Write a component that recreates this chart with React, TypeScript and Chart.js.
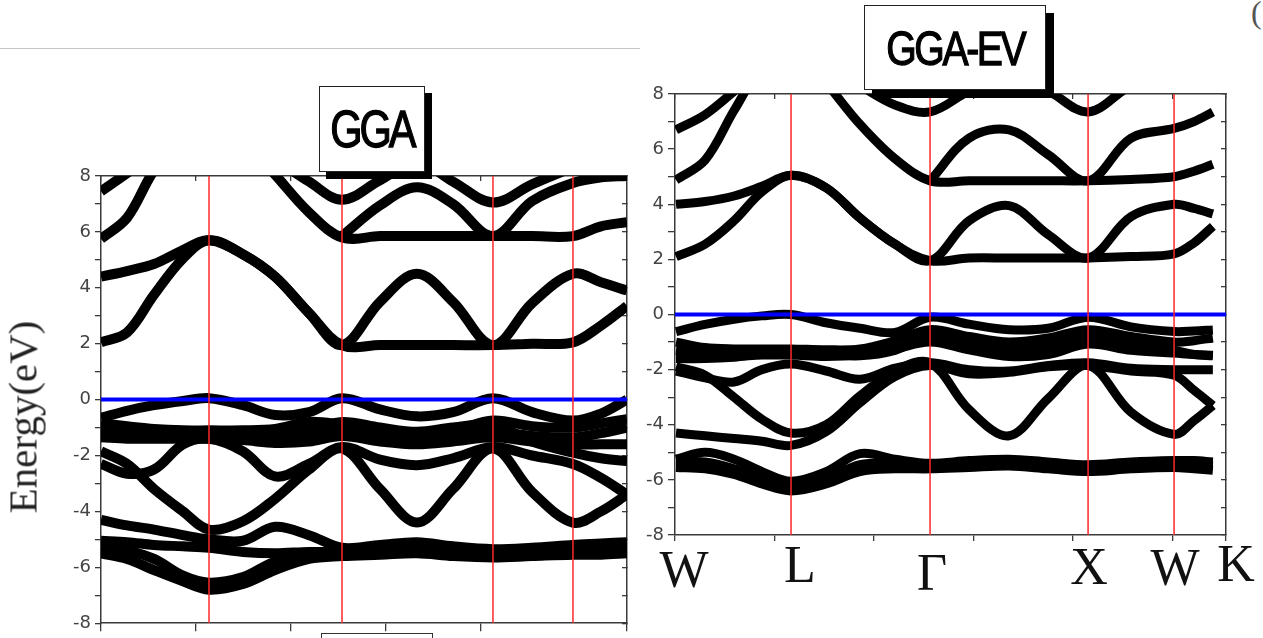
import React, { useEffect, useRef } from 'react';
import { Chart, registerables } from 'chart.js';

Chart.register(...registerables);

// ---------- shared ----------
const Y_MIN = -8;
const Y_MAX = 8;
const FERMI = 0;
const X_MAX = 5.537;
const KPATH_LABELS = ['W', 'L', 'Γ', 'X', 'W', 'K'];

// ---------- GGA panel ----------
const GGA_K = [0, 0.274, 0.558, 0.863, 1.137, 1.495, 1.832, 2.189, 2.537, 2.937, 3.326, 3.705, 4.126, 4.537, 4.968, 5.263, 5.537];
const GGA_SYM = [1.137, 2.537, 4.126, 4.968];

const GGA_C1 = [2.05, 2.4, 3.75, 5.05, 5.7, 5.2, 4.4, 3.1, 1.95, 1.95, 1.95, 1.95, 1.95, 2.0, 2.05, 2.65, 3.35];
const GGA_C2 = [4.4, 4.6, 4.85, 5.35, 5.7, 5.2, 4.4, 3.1, 1.95, 3.5, 4.5, 3.5, 1.95, 3.45, 4.5, 4.2, 3.9];
const GGA_C3 = [5.75, 6.5, 8.2, 9.4, 9.8, 9.3, 8.05, 6.7, 5.8, 5.85, 5.85, 5.85, 5.85, 5.85, 5.85, 6.2, 6.35];
const GGA_C4 = [7.45, 8.1, 8.8, 9.3, 9.5, 9.3, 8.6, 7.8, 7.15, 7.85, 8.5, 7.8, 7.05, 7.7, 8.3, 8.6, 8.8];
const GGA_C5 = [null, null, null, null, null, null, null, null, 5.85, 6.95, 7.6, 7.0, 5.85, 7.1, 7.75, 7.95, 8.0];

const GGA_V1 = [-0.65, -0.4, -0.2, -0.05, 0.05, -0.2, -0.55, -0.45, 0.05, -0.35, -0.6, -0.45, 0.05, -0.45, -0.75, -0.5, 0.0];
const GGA_V2 = [-0.85, -0.95, -1.05, -1.1, -1.1, -1.1, -1.05, -0.8, -0.9, -1.1, -1.2, -1.1, -0.75, -0.95, -1.0, -0.85, -0.7];
const GGA_V3 = [-1.1, -1.15, -1.2, -1.25, -1.25, -1.25, -1.3, -1.2, -1.1, -1.35, -1.5, -1.35, -1.15, -1.3, -1.35, -1.2, -1.0];
const GGA_V4 = [-1.35, -1.4, -1.4, -1.4, -1.4, -1.45, -1.55, -1.5, -1.3, -1.5, -1.6, -1.5, -1.35, -1.5, -1.6, -1.6, -1.6];
const GGA_V5 = [-0.95, -1.0, -1.1, -1.15, -1.15, -1.2, -1.25, -1.1, -0.8, -1.0, -1.15, -1.0, -0.9, -1.5, -1.9, -2.1, -2.2];
const GGA_VA = [-2.3, -2.65, -2.5, -1.6, -1.4, -1.85, -2.75, -2.3, -1.7, -2.15, -2.35, -2.1, -1.7, -2.0, -2.3, -2.8, -3.4];
const GGA_VB = [-1.85, -2.3, -3.2, -4.0, -4.65, -4.35, -3.55, -2.5, -1.75, -3.2, -4.4, -3.2, -1.75, -3.3, -4.4, -4.0, -3.4];
const GGA_VE = [-4.3, -4.5, -4.65, -4.85, -5.0, -5.05, -4.55, -4.85, -5.3, -5.2, -5.1, -5.25, -5.35, -5.3, -5.2, -5.15, -5.1];
const GGA_VF = [-5.05, -5.1, -5.2, -5.25, -5.3, -5.45, -5.5, -5.45, -5.45, -5.35, -5.3, -5.4, -5.55, -5.5, -5.45, -5.4, -5.35];
const GGA_VG = [-5.3, -5.4, -5.7, -6.3, -6.55, -6.35, -5.8, -5.6, -5.55, -5.45, -5.4, -5.5, -5.6, -5.55, -5.5, -5.5, -5.45];
const GGA_VH = [-5.5, -5.7, -6.1, -6.5, -6.8, -6.6, -6.1, -5.7, -5.6, -5.55, -5.5, -5.6, -5.65, -5.6, -5.55, -5.55, -5.5];

const GGA_BANDS = [GGA_C1, GGA_C2, GGA_C3, GGA_C4, GGA_C5, GGA_V1, GGA_V2, GGA_V3, GGA_V4, GGA_V5, GGA_VA, GGA_VB, GGA_VE, GGA_VF, GGA_VG, GGA_VH];

// ---------- GGA-EV panel ----------
const EV_K = [0.01, 0.302, 0.593, 0.874, 1.166, 1.518, 1.859, 2.211, 2.563, 2.955, 3.357, 3.749, 4.151, 4.583, 5.015, 5.216, 5.405];
const EV_SYM = [1.166, 2.563, 4.151, 5.015];

const EV_C1 = [2.1, 2.55, 3.4, 4.45, 5.05, 4.6, 3.5, 2.55, 1.95, 2.05, 2.05, 2.05, 2.05, 2.1, 2.2, 2.6, 3.2];
const EV_C2 = [4.0, 4.1, 4.3, 4.65, 5.05, 4.6, 3.5, 2.55, 1.95, 3.4, 3.95, 2.9, 2.05, 3.55, 4.0, 3.85, 3.65];
const EV_C3 = [4.88, 5.6, 7.4, 9.0, 9.8, 8.4, 6.9, 5.65, 4.85, 4.85, 4.85, 4.85, 4.85, 4.9, 5.0, 5.2, 5.45];
const EV_C4 = [6.7, 7.25, 8.1, 9.0, 9.5, 9.0, 8.3, 7.6, 7.35, 8.1, 8.6, 8.1, 7.35, 8.3, 8.8, 9.0, 9.0];
const EV_C5 = [null, null, null, null, null, null, null, null, 4.85, 6.4, 6.7, 5.8, 4.85, 6.4, 6.75, 7.0, 7.35];

const EV_E1 = [-0.62, -0.36, -0.17, -0.05, 0.0, -0.3, -0.5, -0.65, -0.1, -0.35, -0.55, -0.5, -0.1, -0.45, -0.62, -0.6, -0.56];
const EV_E2 = [-1.0, -1.2, -1.25, -1.25, -1.25, -1.28, -1.25, -0.95, -0.55, -0.8, -1.0, -0.85, -0.55, -0.8, -1.0, -0.95, -0.85];
const EV_E3 = [-1.3, -1.4, -1.45, -1.47, -1.47, -1.52, -1.45, -1.25, -1.0, -1.28, -1.52, -1.45, -1.07, -1.3, -1.4, -1.45, -1.48];
const EV_E4 = [-1.6, -1.6, -1.55, -1.45, -1.4, -1.45, -1.5, -1.3, -0.8, -1.05, -1.25, -1.15, -0.8, -1.1, -1.3, -1.45, -1.5];
const EV_EA = [-2.05, -2.3, -2.45, -2.0, -1.8, -2.05, -2.35, -1.95, -1.75, -2.0, -2.05, -1.85, -1.75, -1.95, -2.0, -2.0, -2.0];
const EV_EB = [-1.9, -2.2, -3.0, -3.8, -4.3, -4.0, -2.95, -2.05, -1.75, -3.45, -4.4, -3.05, -1.85, -3.55, -4.35, -3.85, -3.3];
const EV_ED = [-4.3, -4.4, -4.5, -4.6, -4.75, -4.25, -3.2, -2.25, -1.85, -2.15, -2.1, -1.9, -1.85, -2.05, -2.2, -2.75, -3.3];
const EV_EG = [-5.25, -5.0, -5.25, -5.7, -6.05, -5.7, -5.05, -5.25, -5.4, -5.3, -5.25, -5.35, -5.45, -5.35, -5.3, -5.3, -5.35];
const EV_EE = [-5.35, -5.35, -5.6, -5.95, -6.2, -5.95, -5.45, -5.4, -5.5, -5.45, -5.4, -5.5, -5.6, -5.5, -5.45, -5.45, -5.5];
const EV_EF = [-5.55, -5.6, -5.8, -6.15, -6.4, -6.15, -5.7, -5.6, -5.6, -5.55, -5.5, -5.6, -5.7, -5.6, -5.55, -5.6, -5.65];

const EV_BANDS = [EV_C1, EV_C2, EV_C3, EV_C4, EV_C5, EV_E1, EV_E2, EV_E3, EV_E4, EV_EA, EV_EB, EV_ED, EV_EG, EV_EE, EV_EF];

// ---------- chart builder ----------
type PanelProps = {
  k: number[];
  bands: (number | null)[][];
  sym: number[];
  left: number;
  top: number;
  width: number;
  height: number;
  leftW: number;
  rightW: number;
  topH: number;
  bottomH: number;
  bandWidth: number;
  bottomTick: number;
  leftTick: number;
  labelPad: number;
};

const AXIS_COLOR = '#3a3a3a';
const TICK_FONT = { family: '"DejaVu Sans", "Liberation Sans", Arial, sans-serif', size: 18 };

function BandPanel(p: PanelProps) {
  const ref = useRef<HTMLCanvasElement | null>(null);
  useEffect(() => {
    if (!ref.current) return;
    const datasets: any[] = [];
    p.sym.forEach((s) => {
      datasets.push({
        data: [{ x: s, y: Y_MIN }, { x: s, y: Y_MAX }],
        borderColor: 'rgb(255,40,40)',
        borderWidth: 1.5,
        pointRadius: 0,
        order: 0,
        clip: 0,
        xAxisID: 'x',
        yAxisID: 'y',
      });
    });
    datasets.push({
      data: [{ x: 0, y: FERMI }, { x: X_MAX, y: FERMI }],
      borderColor: 'rgb(0,0,255)',
      borderWidth: 4,
      pointRadius: 0,
      order: 1,
      clip: 0,
      xAxisID: 'x',
      yAxisID: 'y',
    });
    p.bands.forEach((b) => {
      datasets.push({
        data: p.k.map((x, i) => ({ x, y: b[i] })),
        borderColor: '#000',
        borderWidth: p.bandWidth,
        pointRadius: 0,
        tension: 0.35,
        borderJoinStyle: 'round',
        spanGaps: false,
        order: 2,
        clip: 0,
        xAxisID: 'x',
        yAxisID: 'y',
      });
    });

    const blankTicks = { stepSize: 1, autoSkip: false, callback: () => '' };
    const border = { display: true, color: AXIS_COLOR, width: 1.5 };

    const chart = new Chart(ref.current, {
      type: 'line',
      data: { datasets },
      options: {
        animation: false,
        responsive: false,
        devicePixelRatio: 1,
        events: [],
        layout: { padding: 0, autoPadding: false },
        plugins: { legend: { display: false }, tooltip: { enabled: false }, title: { display: false } },
        scales: {
          x: {
            type: 'linear',
            position: 'bottom',
            min: 0,
            max: X_MAX,
            ticks: blankTicks,
            grid: { drawOnChartArea: false, drawTicks: true, tickLength: p.bottomTick, color: AXIS_COLOR, lineWidth: 1.3 },
            border,
            afterFit: (s: any) => { s.height = p.bottomH; },
          },
          xTop: {
            type: 'linear',
            position: 'top',
            min: 0,
            max: X_MAX,
            ticks: blankTicks,
            grid: { drawOnChartArea: false, drawTicks: true, tickLength: -5, color: AXIS_COLOR, lineWidth: 1.3 },
            border,
            afterFit: (s: any) => { s.height = p.topH; },
          },
          y: {
            type: 'linear',
            position: 'left',
            min: Y_MIN,
            max: Y_MAX,
            ticks: {
              stepSize: 1,
              autoSkip: false,
              padding: p.labelPad,
              color: '#444',
              font: TICK_FONT,
              callback: (v: any) => (Number(v) % 2 === 0 ? String(v) : ''),
            },
            grid: { drawOnChartArea: false, drawTicks: true, tickLength: p.leftTick, color: AXIS_COLOR, lineWidth: 1.3 },
            border,
            afterFit: (s: any) => { s.width = p.leftW; },
          },
          yRight: {
            type: 'linear',
            position: 'right',
            min: Y_MIN,
            max: Y_MAX,
            ticks: { stepSize: 1, autoSkip: false, callback: () => '' },
            grid: { drawOnChartArea: false, drawTicks: true, tickLength: -5, color: AXIS_COLOR, lineWidth: 1.3 },
            border,
            afterFit: (s: any) => { s.width = p.rightW; },
          },
        },
      } as any,
    });
    return () => chart.destroy();
  }, []);
  return (
    <canvas
      ref={ref}
      width={p.width}
      height={p.height}
      style={{ position: 'absolute', left: p.left, top: p.top, width: p.width, height: p.height }}
    />
  );
}

const serif = '"Liberation Serif", "Times New Roman", serif';
const sans = '"Liberation Sans", Arial, sans-serif';

const EV_LABEL_POS = [
  { x: 684, top: 544 },
  { x: 800, top: 539 },
  { x: 932, top: 547 },
  { x: 1089, top: 541 },
  { x: 1175, top: 542 },
  { x: 1236, top: 538 },
];

const titleText = {
  display: 'inline-block',
  lineHeight: 1,
  transform: 'scaleX(0.8)',
  color: '#000',
  WebkitTextStroke: '1.3px #000',
} as const;

export default function App() {
  return (
    <div style={{ position: 'absolute', left: 0, top: 0, width: 1263, height: 638, overflow: 'hidden', background: '#fff' }}>
      <div style={{ position: 'absolute', left: 0, top: 48, width: 640, height: 1, background: '#c6c6c6' }} />
      <div style={{ position: 'absolute', left: 1251, top: -6, font: `32px ${serif}`, color: '#555' }}>(</div>

      <BandPanel
        k={GGA_K}
        bands={GGA_BANDS}
        sym={GGA_SYM}
        left={0}
        top={100}
        width={640}
        height={538}
        leftW={101}
        rightW={13}
        topH={76}
        bottomH={9}
        bandWidth={10}
        bottomTick={8}
        leftTick={6}
        labelPad={4}
      />
      <BandPanel
        k={EV_K}
        bands={EV_BANDS}
        sym={EV_SYM}
        left={640}
        top={0}
        width={623}
        height={638}
        leftW={35}
        rightW={37}
        topH={94}
        bottomH={103}
        bandWidth={9}
        bottomTick={6}
        leftTick={7}
        labelPad={4}
      />

      <div
        style={{
          position: 'absolute',
          left: 23,
          top: 417,
          transform: 'translate(-50%, -50%) rotate(-90deg)',
          font: `41px ${serif}`,
          lineHeight: 1,
          whiteSpace: 'nowrap',
          color: '#222',
        }}
      >
        Energy(eV)
      </div>

      <div
        style={{
          position: 'absolute',
          left: 319,
          top: 86,
          width: 106,
          height: 86,
          boxSizing: 'border-box',
          border: '1px solid #222',
          background: '#fff',
          boxShadow: '7px 7px 0 #000',
          display: 'flex',
          alignItems: 'center',
          justifyContent: 'center',
        }}
      >
        <span style={{ ...titleText, font: `52px ${sans}`, letterSpacing: '-4px' }}>GGA</span>
      </div>

      <div
        style={{
          position: 'absolute',
          left: 864,
          top: 5,
          width: 182,
          height: 85,
          boxSizing: 'border-box',
          border: '1px solid #222',
          background: '#fff',
          boxShadow: '8px 8px 0 #000',
          display: 'flex',
          alignItems: 'center',
          justifyContent: 'center',
        }}
      >
        <span style={{ ...titleText, font: `49px ${sans}`, letterSpacing: '-3px' }}>GGA-EV</span>
      </div>

      <div style={{ position: 'absolute', left: 321, top: 633, width: 112, height: 30, boxSizing: 'border-box', border: '1px solid #333', background: '#fff' }} />

      {KPATH_LABELS.map((t, i) => (
        <div
          key={i}
          style={{
            position: 'absolute',
            left: EV_LABEL_POS[i].x,
            top: EV_LABEL_POS[i].top,
            transform: 'translateX(-50%)',
            font: `52px ${serif}`,
            lineHeight: 1,
            color: '#111',
          }}
        >
          {t}
        </div>
      ))}
    </div>
  );
}
